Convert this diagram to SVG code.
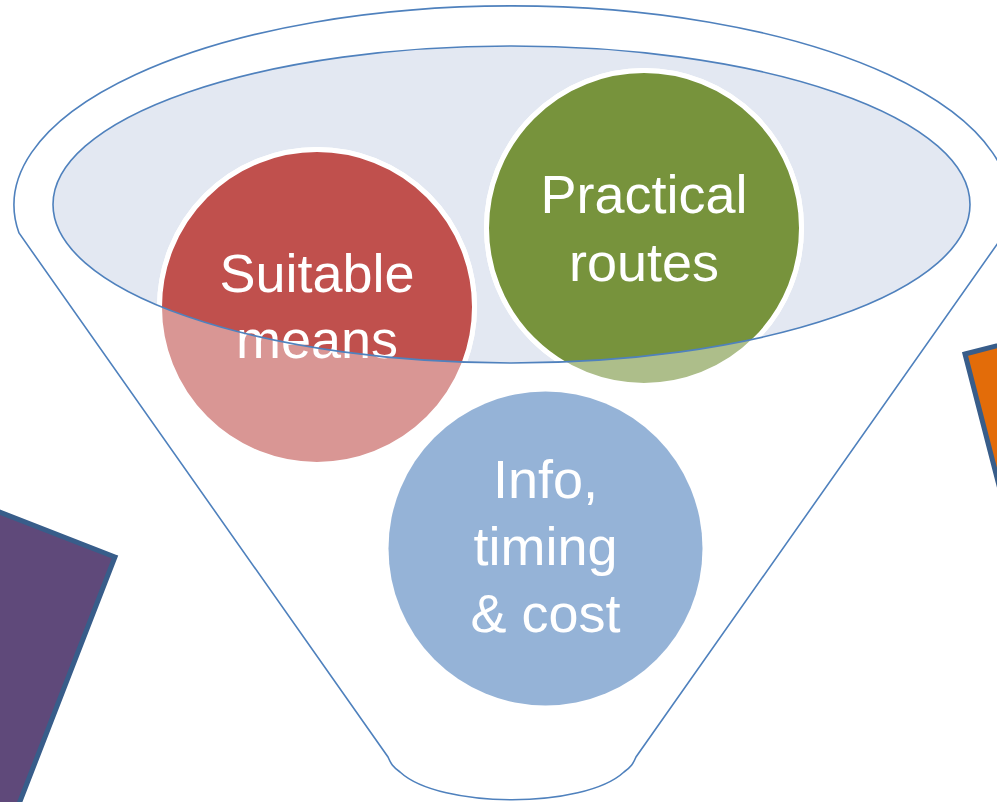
<svg xmlns="http://www.w3.org/2000/svg" width="997" height="802" viewBox="0 0 997 802">
<defs>
<style>
.outline{fill:none;stroke:#4F81BD;stroke-width:1.6}
.ring{stroke:#FFFFFF;stroke-width:5}
.lbl{font-family:"Liberation Sans",Arial,sans-serif;font-size:54px;fill:#FFFFFF;text-anchor:middle}
.card{stroke:#385D8A;stroke-width:5;stroke-linejoin:miter}
</style>
<clipPath id="mouth"><ellipse cx="511.5" cy="204.5" rx="458.5" ry="158.5"/></clipPath>
</defs>
<rect width="997" height="802" fill="#FFFFFF"/>
<g id="card-left"><polygon class="card" fill="#5F497A" points="115,557 -165,448 -310,821 -30,930"/></g>
<g id="card-right"><polygon class="card" fill="#E36C09" points="965,354 1159,304 1258,691 1065,741"/></g>
<g id="funnel">
<path fill="#FFFFFF" class="outline" d="M19 233 A498 199 0 1 1 1005 233 L636 757 C633 764 631 767 624 772 C584 809 440 809 400 772 C393 767 391 764 388 757 Z"/>
<ellipse cx="511.5" cy="204.5" rx="458.5" ry="158.5" fill="#E3E8F2"/>
</g>
<g id="node-suitable">
<circle class="ring" cx="317" cy="307" r="157.5" fill="#D99694"/>
<circle class="ring" cx="317" cy="307" r="157.5" fill="#C0504D" clip-path="url(#mouth)"/>
<text class="lbl" x="317" y="292">Suitable</text>
<text class="lbl" x="317" y="358">means</text>
</g>
<g id="node-practical">
<circle class="ring" cx="644" cy="228" r="157.5" fill="#ADBE8A"/>
<circle class="ring" cx="644" cy="228" r="157.5" fill="#77933C" clip-path="url(#mouth)"/>
<text class="lbl" x="644" y="213">Practical</text>
<text class="lbl" x="644" y="281">routes</text>
</g>
<g id="node-info">
<circle cx="545.5" cy="548.5" r="157" fill="#95B3D7"/>
<text class="lbl" x="545.5" y="498">Info,</text>
<text class="lbl" x="545.5" y="565">timing</text>
<text class="lbl" x="545.5" y="632">&amp; cost</text>
</g>
<g id="connectors">
<ellipse class="outline" cx="511.5" cy="204.5" rx="458.5" ry="158.5"/>
</g>
</svg>
